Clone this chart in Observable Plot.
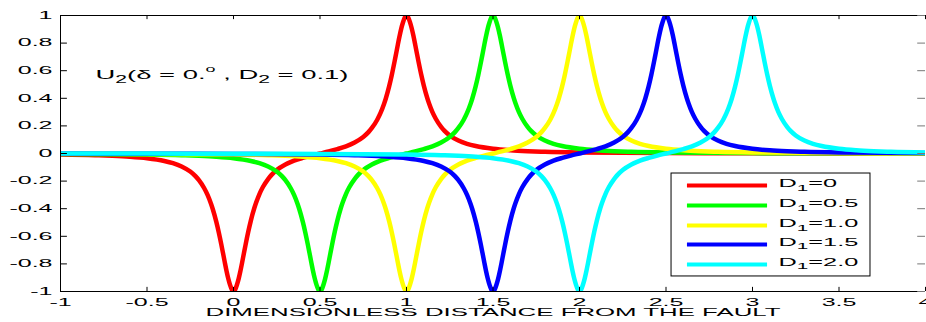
<!DOCTYPE html>
<html><head><meta charset="utf-8">
<script src="https://cdn.jsdelivr.net/npm/d3@7"></script>
<script src="https://cdn.jsdelivr.net/npm/@observablehq/plot@0.6"></script>
<style>
body{margin:0;background:#fff}
svg{font-family:"Liberation Sans",Arial,Helvetica,sans-serif;background:#fff}
</style>
</head><body><div id="chart"></div>
<script>
// ---- data ----
const d1Values = [0, 0.5, 1.0, 1.5, 2.0];
const seriesLabels = ["D₁=0", "D₁=0.5", "D₁=1.0", "D₁=1.5", "D₁=2.0"];
const seriesColors = ["#ff0000", "#00ff00", "#ffff00", "#0000ff", "#00ffff"];
// common profile of every curve, as distance from D1 (offset) and U2 value
const offsets = [-3, -2.5, -2, -1.5, -1, -0.8, -0.7, -0.6, -0.5, -0.4, -0.35, -0.3, -0.25, -0.22, -0.2, -0.17, -0.15, -0.13, -0.12, -0.1, -0.085, -0.07, -0.06, -0.05, -0.04, -0.03, -0.02, -0.01, 0,
  0.01, 0.02, 0.03, 0.04, 0.05, 0.06, 0.07, 0.085, 0.1, 0.12, 0.13, 0.15, 0.17, 0.2, 0.22, 0.25, 0.3, 0.35, 0.4, 0.45, 0.5,
  0.55, 0.6, 0.65, 0.7, 0.75, 0.78, 0.8, 0.83, 0.85, 0.87, 0.88, 0.9, 0.915, 0.93, 0.94, 0.95, 0.96, 0.97, 0.98, 0.99, 1,
  1.01, 1.02, 1.03, 1.04, 1.05, 1.06, 1.07, 1.085, 1.1, 1.12, 1.13, 1.15, 1.17, 1.2, 1.22, 1.25, 1.3, 1.35, 1.4, 1.5, 1.6, 1.7, 1.8, 2, 2.5, 3, 3.5, 4];
const profile = [-0.0005, -0.0008, -0.0014, -0.0028, -0.0074, -0.0123, -0.0166, -0.0231, -0.034, -0.054, -0.070, -0.094, -0.131, -0.164, -0.193, -0.250, -0.300, -0.364, -0.402, -0.492, -0.572, -0.662, -0.726, -0.791, -0.853, -0.908, -0.952, -0.985, -1.0,
  -0.985, -0.951, -0.907, -0.851, -0.789, -0.724, -0.660, -0.569, -0.488, -0.397, -0.359, -0.294, -0.243, -0.185, -0.155, -0.120, -0.080, -0.052, -0.032, -0.015, 0,
  0.015, 0.032, 0.052, 0.080, 0.120, 0.155, 0.185, 0.243, 0.294, 0.359, 0.397, 0.488, 0.569, 0.660, 0.724, 0.789, 0.851, 0.907, 0.951, 0.985, 1.0,
  0.985, 0.952, 0.908, 0.853, 0.791, 0.726, 0.662, 0.572, 0.492, 0.402, 0.364, 0.300, 0.250, 0.193, 0.164, 0.131, 0.094, 0.070, 0.054, 0.034, 0.0231, 0.0166, 0.0123, 0.0074, 0.0028, 0.0014, 0.0008, 0.0005];
const xTicks = [-1, -0.5, 0, 0.5, 1, 1.5, 2, 2.5, 3, 3.5, 4];
const xTickLabels = ["-1", "-0.5", "0", "0.5", "1", "1.5", "2", "2.5", "3", "3.5", "4"];
const yTicks = [1, 0.8, 0.6, 0.4, 0.2, 0, -0.2, -0.4, -0.6, -0.8, -1];
const yTickLabels = ["1", "0.8", "0.6", "0.4", "0.2", "0", "-0.2", "-0.4", "-0.6", "-0.8", "-1"];
const xLabel = "DIMENSIONLESS DISTANCE FROM THE FAULT";
const annotation = "U₂(δ = 0.° , D₂ = 0.1)";

// ---- layout (positions in data units) ----
const legendBox = {x1: 2.532, x2: 3.682, y1: -0.145, y2: -0.891};
const legendSwatch = {x1: 2.624, x2: 3.087};
const legendTextX = 3.15;
const legendRowY = [-0.232, -0.377, -0.522, -0.659, -0.804];

// table built from the arrays above
const table = [];
d1Values.forEach((d1, k) => {
  offsets.forEach((o, i) => {
    const x = d1 + o;
    if (x >= -1 - 1e-9 && x <= 4 + 1e-9) table.push({label: seriesLabels[k], x, y: profile[i]});
  });
});

const chart = Plot.plot({
  width: 926, height: 322,
  marginLeft: 60, marginRight: 1, marginTop: 15, marginBottom: 31,
  x: {domain: [-1, 4], axis: null},
  y: {domain: [-1, 1], axis: null},
  color: {domain: seriesLabels, range: seriesColors},
  style: {background: "#fff", overflow: "visible"},
  marks: [
    // curves
    Plot.line(table, {x: "x", y: "y", z: "label", stroke: "label", strokeWidth: 4.5, strokeLinejoin: "round", curve: "monotone-x", clip: true}),
    // frame
    Plot.ruleY([1, -1], {stroke: "#000", strokeWidth: 1}),
    Plot.ruleX([-1], {y1: -1, y2: 1, stroke: "#000", strokeWidth: 1}),
    // ticks (inward)
    Plot.ruleX(xTicks, {y1: -1, y2: -0.97, stroke: "#000"}),
    Plot.ruleX(xTicks, {y1: 1, y2: 0.97, stroke: "#000"}),
    Plot.ruleY(yTicks, {x1: -1, x2: -0.96, stroke: "#000"}),
    Plot.ruleY(yTicks, {x1: 3.955, x2: 4, stroke: "#777"}),
    // tick labels
    Plot.text(xTicks, {x: d => d, y: -1, dy: 11, text: (d, i) => xTickLabels[i], fontSize: 10}),
    Plot.text(yTicks, {x: -1, y: d => d, dx: -8, text: (d, i) => yTickLabels[i], textAnchor: "end", fontSize: 10}),
    // axis label
    Plot.text([xLabel], {frameAnchor: "bottom", dy: 24.5, text: d => d, fontSize: 11}),
    // annotation
    Plot.text([annotation], {frameAnchor: "top-left", dx: 35, dy: 54, text: d => d, textAnchor: "start", fontSize: 13}),
    // legend
    Plot.rect([legendBox], {x1: "x1", x2: "x2", y1: "y1", y2: "y2", fill: "#fff", stroke: "#000", strokeWidth: 1}),
    Plot.ruleY(seriesLabels, {y: (d, i) => legendRowY[i], x1: legendSwatch.x1, x2: legendSwatch.x2, stroke: d => d, strokeWidth: 4}),
    Plot.text(seriesLabels, {x: legendTextX, y: (d, i) => legendRowY[i], dy: -2, text: d => d, textAnchor: "start", fontSize: 11})
  ]
});
document.getElementById("chart").append(chart);

// render unicode sub/superscripts as shifted tspans
const subMap = {"₀":"0","₁":"1","₂":"2","₃":"3","₄":"4","₅":"5","₆":"6","₇":"7","₈":"8","₉":"9"};
function scriptify(t, subSize, subShift) {
  const s = t.textContent;
  if (!/[₀-₉°]/.test(s)) return;
  t.textContent = "";
  const ns = "http://www.w3.org/2000/svg";
  let shift = 0;
  const add = (str, size, target) => {
    const sp = document.createElementNS(ns, "tspan");
    if (size) sp.setAttribute("font-size", size);
    const d = target - shift;
    if (d) sp.setAttribute("dy", d);
    shift = target;
    sp.textContent = str;
    t.appendChild(sp);
  };
  for (const ch of s) {
    if (subMap[ch]) add(subMap[ch], subSize, subShift);
    else if (ch === "°") add("o", subSize * 0.85, -subShift * 1.6);
    else add(ch, null, 0);
  }
}
const textGroups = chart.querySelectorAll('g[aria-label="text"]');
if (textGroups[3]) textGroups[3].querySelectorAll("text").forEach(t => scriptify(t, 10, 4));
if (textGroups[4]) textGroups[4].querySelectorAll("text").forEach(t => scriptify(t, 9, 3.5));

// horizontal stretch of text (the reference glyphs are drawn wide)
function stretch(g, k, target) {
  if (!g) return;
  g.querySelectorAll("text").forEach(t => {
    const w = t.getComputedTextLength();
    t.setAttribute("textLength", target ? target : w * k);
    t.setAttribute("lengthAdjust", "spacingAndGlyphs");
  });
}
stretch(textGroups[0], 2.5);
stretch(textGroups[1], 2.5);
stretch(textGroups[2], 1, 575);
stretch(textGroups[3], 1, 253);
stretch(textGroups[4], 2.3);
</script>
</body></html>
